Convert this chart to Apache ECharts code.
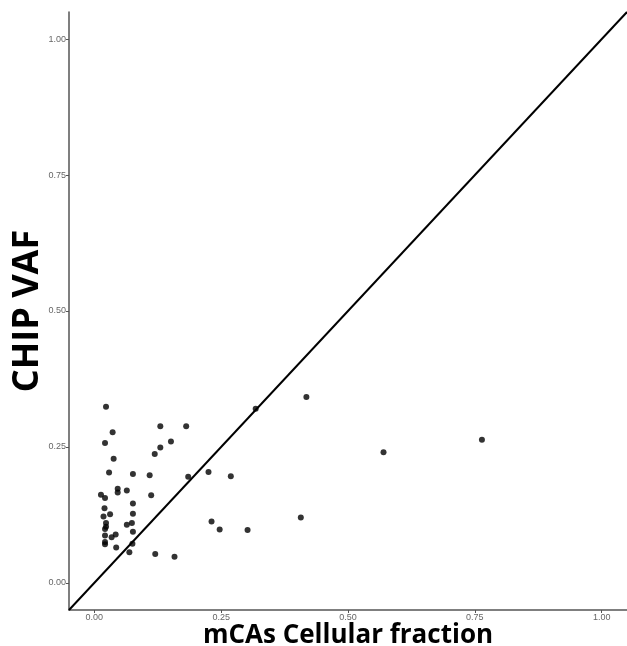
<!DOCTYPE html>
<html>
<head>
<meta charset="utf-8">
<script src="https://cdn.jsdelivr.net/npm/echarts@6/dist/echarts.min.js"></script>
<style>
  html, body { margin: 0; padding: 0; background: #fff; }
  #chart { width: 627px; height: 646px; }
</style>
</head>
<body>
<div id="chart"></div>
<script>
// mCAs cellular fraction (x) vs CHIP VAF (y)
const cellFraction = [
  0.023, 0.036, 0.021, 0.130, 0.181, 0.151, 0.130, 0.119, 0.038, 0.029,
  0.076, 0.109, 0.185, 0.225, 0.269, 0.013, 0.021, 0.046, 0.046, 0.064,
  0.112, 0.076, 0.020, 0.031, 0.018, 0.076, 0.023, 0.023, 0.021, 0.064,
  0.074, 0.076, 0.021, 0.042, 0.034, 0.021, 0.021, 0.043, 0.075, 0.069,
  0.120, 0.158, 0.318, 0.418, 0.231, 0.247, 0.302, 0.407, 0.570, 0.764
];
const chipVaf = [
  0.324, 0.277, 0.257, 0.288, 0.288, 0.260, 0.249, 0.237, 0.228, 0.203,
  0.200, 0.198, 0.195, 0.204, 0.196, 0.162, 0.156, 0.173, 0.166, 0.170,
  0.161, 0.146, 0.137, 0.126, 0.122, 0.127, 0.110, 0.103, 0.099, 0.107,
  0.110, 0.094, 0.087, 0.089, 0.084, 0.075, 0.071, 0.065, 0.072, 0.056,
  0.053, 0.048, 0.320, 0.342, 0.113, 0.098, 0.097, 0.120, 0.240, 0.263
];
const tickValues = [0, 0.25, 0.5, 0.75, 1];
const axisRange = [-0.05, 1.05];
// identity line y = x across the whole range
const refLine = [axisRange[0], axisRange[1]];

const points = cellFraction.map((x, i) => [x, chipVaf[i]]);

function makeAxis(name, gap, rotate) {
  return {
    type: 'value',
    min: axisRange[0],
    max: axisRange[1],
    name: name,
    nameLocation: 'middle',
    nameGap: gap,
    nameRotate: rotate,
    nameMoveOverlap: false,
    nameTextStyle: {
      fontFamily: 'Open Sans',
      fontWeight: 'bold',
      fontSize: rotate ? 36 : 26,
      color: '#000'
    },
    splitLine: { show: false },
    axisLine: { show: true, onZero: false, lineStyle: { color: '#555', width: 1.5 } },
    axisTick: {
      show: true,
      length: 3,
      customValues: tickValues,
      lineStyle: { color: '#555', width: 1 }
    },
    axisLabel: {
      customValues: tickValues,
      formatter: v => v.toFixed(2),
      fontFamily: 'Liberation Sans',
      fontSize: 9,
      color: '#666',
      margin: 3
    }
  };
}

const chart = echarts.init(document.getElementById('chart'), null, { renderer: 'canvas' });
chart.setOption({
  animation: false,
  backgroundColor: '#fff',
  grid: { left: 69, right: 0, top: 12, bottom: 36, containLabel: false, outerBoundsMode: 'none' },
  xAxis: makeAxis('mCAs Cellular fraction', 13, 0),
  yAxis: makeAxis('CHIP VAF', 23, 90),
  series: [
    {
      type: 'line',
      data: refLine.map(v => [v, v]),
      showSymbol: false,
      clip: true,
      lineStyle: { color: '#000', width: 2 },
      z: 1
    },
    {
      type: 'scatter',
      data: points,
      symbolSize: 6,
      itemStyle: { color: '#000' },
      z: 2
    }
  ]
});
</script>
</body>
</html>
